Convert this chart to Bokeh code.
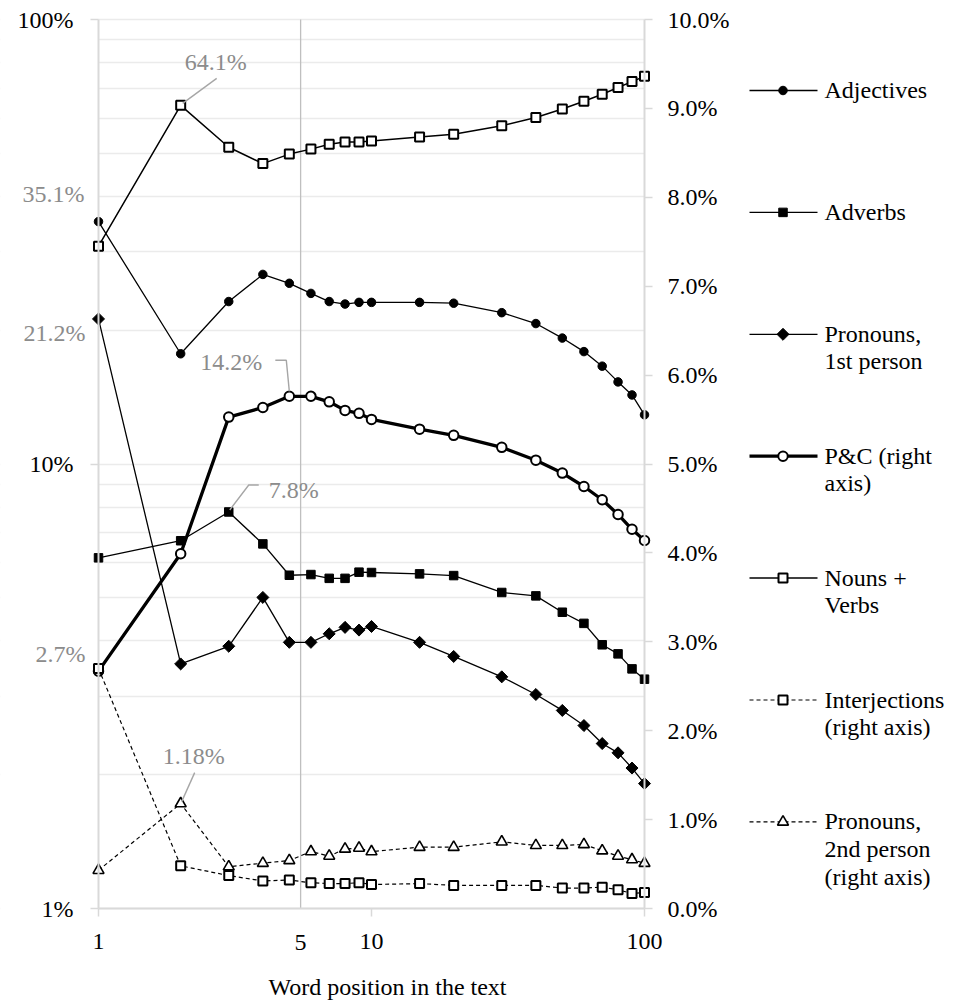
import numpy as np
from bokeh.plotting import figure
from bokeh.models import (Range1d, LinearAxis, FixedTicker, PrintfTickFormatter,
                          Label, LinearScale, BoxAnnotation)
from bokeh.layouts import row
from bokeh.embed import file_html
from bokeh.resources import INLINE
from bokeh.core.properties import value

# ---------------- data (percent values) ----------------
positions = [1, 2, 3, 4, 5, 6, 7, 8, 9, 10, 15, 20, 30, 40, 50, 60, 70, 80, 90, 100]
adjectives = [35.1, 17.7, 23.2, 26.7, 25.5, 24.2, 23.2, 22.9, 23.1, 23.1,
              23.1, 23.0, 21.9, 20.7, 19.2, 17.9, 16.6, 15.3, 14.3, 12.9]
adverbs = [6.15, 6.72, 7.8, 6.61, 5.62, 5.64, 5.53, 5.53, 5.71, 5.70,
           5.66, 5.61, 5.14, 5.05, 4.64, 4.38, 3.92, 3.74, 3.46, 3.28]
pronouns_1st = [21.2, 3.55, 3.89, 5.01, 3.97, 3.97, 4.15, 4.29, 4.23, 4.31,
                3.97, 3.69, 3.32, 3.03, 2.79, 2.58, 2.35, 2.24, 2.07, 1.91]
p_and_c = [3.42, 6.28, 12.75, 13.4, 14.2, 14.2, 13.8, 13.2, 13.0, 12.6,
           11.98, 11.6, 10.9, 10.2, 9.54, 8.9, 8.31, 7.70, 7.13, 6.73]
nouns_verbs = [30.9, 64.1, 51.6, 47.4, 49.8, 51.1, 52.4, 53.0, 53.0, 53.3,
               54.4, 55.2, 57.7, 60.2, 62.9, 65.5, 67.9, 70.3, 72.5, 74.5]
interjections = [2.7, 0.48, 0.37, 0.31, 0.32, 0.29, 0.28, 0.28, 0.29, 0.27,
                 0.28, 0.26, 0.26, 0.26, 0.23, 0.23, 0.24, 0.21, 0.17, 0.18]
pronouns_2nd = [0.43, 1.18, 0.47, 0.51, 0.54, 0.64, 0.59, 0.67, 0.68, 0.64,
                0.69, 0.69, 0.75, 0.71, 0.71, 0.72, 0.65, 0.59, 0.55, 0.51]

legend_labels = ["Adjectives", "Adverbs", "Pronouns,\n1st person", "P&C (right\naxis)",
                 "Nouns +\nVerbs", "Interjections\n(right axis)", "Pronouns,\n2nd person\n(right axis)"]
x_bounds = (1, 100)
left_bounds = (1, 100)
right_bounds = (0, 10)
x_ticks = [1, 10, 100]
left_ticks = [1, 10, 100]
right_ticks = [0, 1, 2, 3, 4, 5, 6, 7, 8, 9, 10]
divider_x = 5.5
divider_label = "5"
x_title = "Word position in the text"

# ---------------- style / geometry ----------------
FONT = "Liberation Serif"
FS = "24px"
GREY_TXT = "#8c8c8c"
LEADER = "#a6a6a6"
AXIS_C = "#d9d9d9"
GRID_C = "#ebebeb"
W, H = 744, 1002
# pixel placement of the plotting area inside the canvas
AX_LEFT, AX_RIGHT = 98, 644
AX_TOP, AX_BOTTOM = 19, 908
PPD_X = (AX_RIGHT - AX_LEFT) / 2      # pixels per decade
PPD_Y = (AX_BOTTOM - AX_TOP) / 2
R_PER_PX = (right_bounds[1] - right_bounds[0]) / (AX_BOTTOM - AX_TOP)

# the frame covers the whole canvas so that the texts and markers around the
# plotting area are not clipped; axes sit at fixed locations
x_range = Range1d(x_bounds[0] * 10 ** (-AX_LEFT / PPD_X),
                  x_bounds[1] * 10 ** ((W - AX_RIGHT) / PPD_X))
y_range = Range1d(left_bounds[0] * 10 ** (-(H - AX_BOTTOM) / PPD_Y),
                  left_bounds[1] * 10 ** (AX_TOP / PPD_Y))
r_range = Range1d(right_bounds[0] - (H - AX_BOTTOM) * R_PER_PX,
                  right_bounds[1] + AX_TOP * R_PER_PX)


def px_shift(x0, y0, dx, dy, rng):
    """Data coordinates of a point shifted by (dx, dy) screen pixels (dy down)."""
    xd = x0 * 10 ** (dx / PPD_X)
    if rng == "right":
        yd = y0 - dy * R_PER_PX
    else:
        yd = y0 * 10 ** (-dy / PPD_Y)
    return xd, yd


p = figure(width=W, height=H, x_axis_type="log", y_axis_type="log",
           x_range=x_range, y_range=y_range,
           output_backend="svg", toolbar_location=None, min_border=0)
p.outline_line_color = None
p.extra_y_ranges = {"right": r_range}
p.extra_y_scales = {"right": LinearScale()}

p.xgrid.visible = False
p.ygrid.ticker = FixedTicker(ticks=[k * 10 ** e for e in (0, 1) for k in range(1, 10)] + [100])
p.ygrid.grid_line_color = GRID_C
p.ygrid.grid_line_width = 1.3
# keep grid lines inside the plotting area only
p.add_layout(BoxAnnotation(right=x_bounds[0], fill_color="white", fill_alpha=1,
                           line_color=None, level="underlay"))
p.add_layout(BoxAnnotation(left=x_bounds[1], fill_color="white", fill_alpha=1,
                           line_color=None, level="underlay"))

p.xaxis.ticker = FixedTicker(ticks=x_ticks)
p.xaxis.formatter = PrintfTickFormatter(format="%d")
p.xaxis.fixed_location = left_bounds[0]
p.xaxis.bounds = x_bounds
p.yaxis.ticker = FixedTicker(ticks=left_ticks)
p.yaxis.formatter = PrintfTickFormatter(format="%d%%")
p.yaxis.fixed_location = x_bounds[0]
p.yaxis.bounds = left_bounds

ra = LinearAxis(y_range_name="right", ticker=FixedTicker(ticks=right_ticks),
                formatter=PrintfTickFormatter(format="%.1f%%"), bounds=right_bounds,
                fixed_location=x_bounds[1])
p.add_layout(ra, "right")

for ax in [p.xaxis[0], p.yaxis[0], ra]:
    ax.axis_line_color = AXIS_C
    ax.axis_line_width = 2
    ax.major_tick_line_color = AXIS_C
    ax.major_tick_line_width = 1.5
    ax.major_tick_out = 8
    ax.major_tick_in = 0
    ax.minor_tick_line_color = None
    ax.major_label_text_font = FONT
    ax.major_label_text_font_size = FS
    ax.major_label_text_color = "black"
p.xaxis.major_label_standoff = 17
p.yaxis.major_label_standoff = 17
ra.major_label_standoff = 15

# vertical divider line
p.segment(x0=[divider_x], y0=[left_bounds[0]], x1=[divider_x], y1=[left_bounds[1]],
          line_color="#bfbfbf", line_width=1.3)


def add_text(x, y, text, dx, dy, align, color, rng="default"):
    p.add_layout(Label(x=x, y=y, y_range_name=rng, x_offset=dx, y_offset=-dy, text=text,
                       text_color=color, text_font=FONT, text_font_size=FS,
                       text_align=align, text_baseline="middle"))


add_text(divider_x, left_bounds[0], divider_label, 0, 34, "center", "black")
add_text(10, left_bounds[0], x_title, 16, 78, "center", "black")

# ---------------- series ----------------
series = [
    (adjectives, "default", dict(marker="circle", size=8.5, fill_color="black", line_width=1), 1.3, "solid"),
    (adverbs, "default", dict(marker="square", size=8.5, fill_color="black", line_width=1), 1.3, "solid"),
    (pronouns_1st, "default", dict(marker="square", size=8.5, angle=np.pi / 4, fill_color="black", line_width=1), 1.3, "solid"),
    (p_and_c, "default", dict(marker="circle", size=9.5, fill_color="white", line_width=2), 3.3, "solid"),
    (nouns_verbs, "default", dict(marker="square", size=9, fill_color="white", line_width=2), 1.5, "solid"),
    (interjections, "right", dict(marker="square", size=9, fill_color="white", line_width=2), 1.2, "4 3"),
    (pronouns_2nd, "right", dict(marker="triangle", size=11, fill_color="white", line_width=1.6), 1.2, "4 3"),
]
for vals, rng, mk, lw, dash in series:
    p.line(positions, vals, y_range_name=rng, line_color="black", line_width=lw, line_dash=dash)
for vals, rng, mk, lw, dash in series:
    p.scatter(positions, vals, y_range_name=rng, line_color="black", **mk)

# ---------------- data labels ----------------
# (series values, index, range, text dx, text dy, align, leader offsets)
callouts = [
    (nouns_verbs, 1, "default", 35, -43, "center", [(36, -27), (2, -2)]),
    (p_and_c, 4, "default", -58, -34, "center", [(-14, -36), (-3, -36), (0, -5)]),
    (adverbs, 2, "default", 65, -22, "center", [(30, -27), (20, -27), (1, -2)]),
    (pronouns_2nd, 1, "right", 13, -48, "center", [(14, -31), (1, -2)]),
    (adjectives, 0, "default", -14, -28, "right", []),
    (pronouns_1st, 0, "default", -13, 14, "right", []),
    (interjections, 0, "right", -13, -14, "right", []),
]
for vals, i, rng, dx, dy, align, leader in callouts:
    x0, y0 = positions[i], vals[i]
    add_text(x0, y0, f"{y0:g}%", dx, dy, align, GREY_TXT, rng)
    if leader:
        pts = [px_shift(x0, y0, a, b, rng) for a, b in leader]
        p.line([q[0] for q in pts], [q[1] for q in pts], y_range_name=rng,
               line_color=LEADER, line_width=1.4)

# ---------------- legend ----------------
LW = 215
lg = figure(width=LW, height=H, x_range=Range1d(0, LW), y_range=Range1d(H, 0),
            output_backend="svg", toolbar_location=None, min_border=0,
            x_axis_location=None, y_axis_location=None)
lg.outline_line_color = None
lg.xgrid.visible = False
lg.ygrid.visible = False
top, step = 90, 121.9
for k, (vals, rng, mk, lw, dash) in enumerate(series):
    yy = top + k * step
    lg.line([5, 73], [yy, yy], line_color="black", line_width=lw, line_dash=dash)
    lg.scatter([38.5], [yy], line_color="black", **mk)
lg.text(x=[80] * len(legend_labels), y=[top + k * step - 13.5 for k in range(len(legend_labels))],
        text=legend_labels, text_font=value(FONT), text_font_size=value(FS),
        text_align="left", text_baseline="top", text_line_height=1.065, text_color="black")

layout = row(p, lg)
open("out.html", "w").write(file_html(layout, INLINE, title="chart"))
